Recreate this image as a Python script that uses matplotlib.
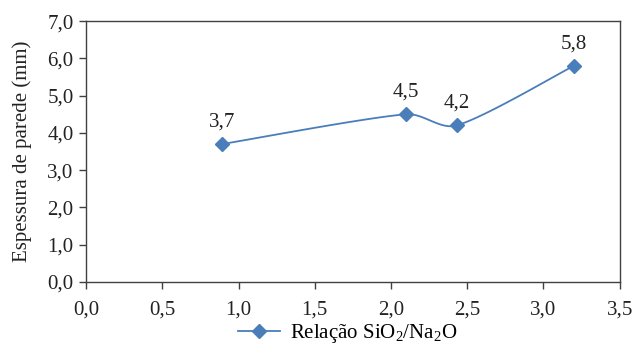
import numpy as np
import matplotlib
matplotlib.use("Agg")
import matplotlib.pyplot as plt

plt.rcParams['font.family'] = ['Liberation Serif', 'DejaVu Serif']
plt.rcParams['mathtext.fontset'] = 'custom'
plt.rcParams['mathtext.rm'] = 'Liberation Serif'
plt.rcParams['mathtext.it'] = 'Liberation Serif:italic'

x_vals = [0.89, 2.10, 2.43, 3.20]
y_vals = [3.7, 4.5, 4.2, 5.8]
labels = ["3,7", "4,5", "4,2", "5,8"]
series_name = "Relação SiO$_2$/Na$_2$O"
xticks = [0.0, 0.5, 1.0, 1.5, 2.0, 2.5, 3.0, 3.5]
yticks = [0, 1, 2, 3, 4, 5, 6, 7]

def smooth(xs, ys, sx_scale, sy_scale, n=40):
    xs = np.asarray(xs, float) * sx_scale
    ys = np.asarray(ys, float) * sy_scale
    P = np.column_stack([xs, ys])
    P = np.vstack([P[0], P, P[-1]])
    out = []
    for i in range(1, len(P) - 2):
        p0, p1, p2, p3 = P[i-1], P[i], P[i+1], P[i+2]
        seg = np.linalg.norm(p2 - p1)
        d1 = (p2 - p0) / 6
        d2 = (p3 - p1) / 6
        lim = seg * 0.33
        n1 = np.linalg.norm(d1)
        n2 = np.linalg.norm(d2)
        if n1 > lim:
            d1 = d1 / n1 * lim
        if n2 > lim:
            d2 = d2 / n2 * lim
        c1 = p1 + d1
        c2 = p2 - d2
        t = np.linspace(0, 1, n)[:, None]
        b = (1-t)**3*p1 + 3*(1-t)**2*t*c1 + 3*(1-t)*t**2*c2 + t**3*p2
        out.append(b)
    B = np.vstack(out)
    return B[:, 0] / sx_scale, B[:, 1] / sy_scale

color = '#4A7EBB'
fig = plt.figure(figsize=(6.33, 3.57), dpi=100)
ax = fig.add_axes([0.136, 0.21, 0.843, 0.731])
ax.set_xlim(0, 3.5)
ax.set_ylim(0, 7)
# smoothing done in pixel-proportional space
sx, sy = smooth(x_vals, y_vals, 534 / 3.5, 259 / 7)
ax.plot(sx, sy, color=color, lw=1.3)
ax.plot(x_vals, y_vals, linestyle='none', marker='D', ms=7, color=color)
ax.plot([], [], color=color, lw=1.3, marker='D', ms=7, label=series_name)
for x, y, t in zip(x_vals, y_vals, labels):
    ax.annotate(t, (x, y), xytext=(0, 9), textcoords='offset points',
                ha='center', va='bottom', fontsize=15, color='#222222')

ax.set_xticks(xticks)
ax.set_yticks(yticks)
ax.set_xticklabels([f"{v:.1f}".replace('.', ',') for v in xticks])
ax.set_yticklabels([f"{v:.1f}".replace('.', ',') for v in yticks])
ax.tick_params(direction='out', length=5, width=1, colors='#404040', labelsize=15,
               labelcolor='#222222')
ax.tick_params(axis='x', pad=8)
ax.tick_params(axis='y', pad=4)
for s in ax.spines.values():
    s.set_color('#404040')
    s.set_linewidth(1)
ax.set_ylabel("Espessura de parede (mm)", fontsize=15, color='#222222', labelpad=11)
ax.legend(loc='upper center', bbox_to_anchor=(0.49, -0.155), frameon=False,
          fontsize=15, handlelength=2.0, handletextpad=0.5,
          borderaxespad=0, borderpad=0)
fig.savefig("out.png", dpi=100)
